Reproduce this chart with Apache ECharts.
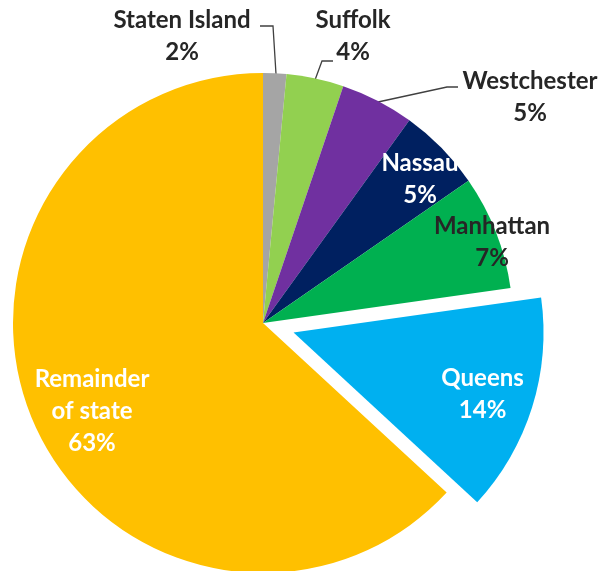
<!DOCTYPE html>
<html>
<head>
<meta charset="utf-8">
<script src="https://cdn.jsdelivr.net/npm/echarts@6/dist/echarts.min.js"></script>
<style>
html,body{margin:0;padding:0;background:#fff;}
#chart{width:600px;height:571px;}
</style>
</head>
<body>
<div id="chart"></div>
<script>
// Data (share of total, %)
const categories = ['Staten Island', 'Suffolk', 'Westchester', 'Nassau', 'Manhattan', 'Queens', 'Remainder\nof state'];
const values = [1.5, 3.7, 4.75, 5.4, 7.4, 14.1, 63.1];
const explodedCategory = 'Queens';

// Styling (not data)
const colors = ['#A5A5A5', '#92D050', '#7030A0', '#002060', '#00B050', '#00B0F0', '#FFC000'];
const labelColors = ['#262626', '#262626', '#262626', '#FFFFFF', '#262626', '#FFFFFF', '#FFFFFF'];
const outsideLabel = [true, true, true, false, false, false, false];
// absolute label centres (null = keep the library's inside position, shifted by labelShift)
const labelPos = [[182, 36], [353, 36], [530, 97], [420, 179], [492, 242], null, [92, 411]];
const labelShift = [null, null, null, null, null, [64, -6], null];
const leaderLines = [
  [[276, 74], [273, 26], [260, 26]],
  [[315, 80], [322, 61], [333, 61]],
  [[378, 102], [447, 87], [458, 87]],
  null, null, null, null
];

const chart = echarts.init(document.getElementById('chart'), null, {renderer: 'canvas'});
const data = categories.map((name, i) => {
  const lbl = {
    position: outsideLabel[i] ? 'outside' : 'inside',
    color: labelColors[i]
  };
  if (labelShift[i]) lbl.offset = labelShift[i];
  return {
    name: name,
    value: values[i],
    selected: name === explodedCategory,
    itemStyle: {color: colors[i]},
    label: lbl,
    select: {label: lbl},
    labelLine: {show: outsideLabel[i]}
  };
});

chart.setOption({
  animation: false,
  series: [{
    type: 'pie',
    center: [263, 323],
    radius: [0, 250],
    startAngle: 90,
    clockwise: true,
    avoidLabelOverlap: false,
    selectedMode: 'multiple',
    selectedOffset: 32,
    emphasis: {disabled: true},
    itemStyle: {borderWidth: 0},
    label: {
      show: true,
      fontFamily: 'Lato',
      fontWeight: 'bold',
      fontSize: 24,
      lineHeight: 32,
      align: 'center',
      formatter: p => p.name + '\n' + Math.round(p.value) + '%'
    },
    labelLine: {
      lineStyle: {color: '#404040', width: 1.3},
      length: 10, length2: 10
    },
    labelLayout: function (params) {
      const i = params.dataIndex;
      if (!labelPos[i]) return {};
      const res = {
        x: labelPos[i][0],
        y: labelPos[i][1],
        align: 'center',
        verticalAlign: 'middle'
      };
      if (leaderLines[i]) res.labelLinePoints = leaderLines[i];
      return res;
    },
    data: data
  }]
});
</script>
</body>
</html>
